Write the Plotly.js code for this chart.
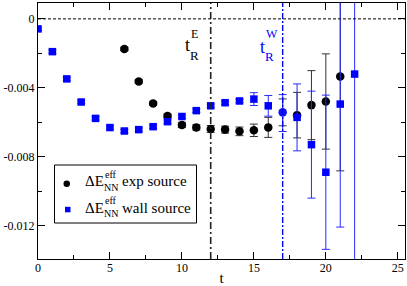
<!DOCTYPE html>
<html>
<head>
<meta charset="utf-8">
<script src="https://cdn.plot.ly/plotly-3.0.1.min.js"></script>
<style>html,body{margin:0;padding:0;background:#fff;} #chart{width:407px;height:286px;}</style>
</head>
<body>
<div id="chart"></div>
<script>
// ---- data ----
var expT = [6,7,8,9,10,11,12,13,14,15,16,17,18,19,20,21];
var expY = [-0.00174,-0.00363,-0.00490,-0.00563,-0.00615,-0.00629,-0.00638,-0.00642,-0.00652,-0.00646,-0.00629,-0.00542,-0.00558,-0.00500,-0.00479,-0.00334];
var expErr = [0.0001,0.0001,0.0001,0.00012,0.00015,0.00015,0.0002,0.0002,0.00025,0.00036,0.00058,0.00078,0.00132,0.00200,0.00276,0.00547];

var wallT = [0,1,2,3,4,5,6,7,8,9,10,11,12,13,14,15,16,17,18,19,20,21,22];
var wallY = [-0.00058,-0.00190,-0.00348,-0.00482,-0.00577,-0.00630,-0.00650,-0.00642,-0.00625,-0.00596,-0.00566,-0.00532,-0.00504,-0.00486,-0.00476,-0.00465,-0.00504,-0.00546,-0.00571,-0.00729,-0.00889,-0.00494,-0.00320];
var wallErr = [0.0001,0.0001,0.0001,0.0001,0.0001,0.0001,0.0001,0.0001,0.0001,0.0001,0.0001,0.0001,0.0001,0.0001,0.0001,0.00037,0.00060,0.00107,0.00194,0.00310,0.00447,0.00713,0.01200];

var xTickVals = [0,5,10,15,20,25];
var xTickText = ['0','5','10','15','20','25'];
var yTickVals = [0,-0.004,-0.008,-0.012];
var yTickText = ['0','-0.004','-0.008','-0.012'];

var tRE = 12, tRW = 17;

var serif = "'Liberation Serif', 'Times New Roman', 'DejaVu Serif', serif";
var BLUE = '#0000ff';

// plot geometry (pixels) for annotation placement
var L = 38, R = 405, T = 3, B = 259;
function px(x){ return (x - L) / (R - L); }
function py(y){ return (B - y) / (B - T); }

var expColors = expT.map(function(t){ return t === tRW ? '#1010ee' : '#000000'; });
var wallOpac = wallT.map(function(t){ return t === tRW ? 0 : 1; });

var traces = [
  {
    x: expT, y: expY, type: 'scatter', mode: 'markers', name: 'exp source',
    marker: {symbol: 'circle', size: 8.5, color: expColors},
    error_y: {type: 'data', array: expErr, visible: true, color: '#333333', thickness: 1, width: 4},
    showlegend: false
  },
  {
    x: wallT, y: wallY, type: 'scatter', mode: 'markers', name: 'wall source',
    marker: {symbol: 'square', size: 7.5, color: BLUE, opacity: wallOpac},
    error_y: {type: 'data', array: wallErr, visible: true, color: '#2a2aff', thickness: 1, width: 4},
    showlegend: false
  }
];

function ann(text, xl, base, fs, color){
  return {xref:'paper', yref:'paper', x: px(xl), y: py(base - 0.34*fs), xanchor:'left', yanchor:'middle',
          text: text, showarrow:false, font:{family: serif, size: fs, color: color}, borderpad:0};
}

var annotations = [
  ann('t', 183.5, 51, 18, '#000'),
  ann('R', 188.5, 59.5, 13, '#000'),
  ann('E', 190, 38, 12, '#000'),
  ann('t', 259, 53, 18, BLUE),
  ann('R', 264, 60.5, 13, BLUE),
  ann('W', 265, 38.3, 12, BLUE),
  // legend
  ann('ΔE', 84, 186.5, 15, '#000'),
  ann('NN', 102.5, 190.5, 10, '#000'),
  ann('eff', 104, 177.5, 10, '#000'),
  ann('exp source', 121, 186.5, 15, '#000'),
  ann('ΔE', 84, 213, 15, '#000'),
  ann('NN', 102.5, 217, 10, '#000'),
  ann('eff', 104, 204, 10, '#000'),
  ann('wall source', 121, 213, 15, '#000')
];

var shapes = [
  {type:'line', xref:'paper', yref:'y', x0:0, x1:1, y0:0, y1:0, line:{color:'#000', width:1, dash:'3px,2px'}},
  {type:'line', xref:'x', yref:'paper', x0:tRE, x1:tRE, y0:0, y1:1, line:{color:'#222', width:1.6, dash:'7px,3px,2px,3px'}},
  {type:'line', xref:'x', yref:'paper', x0:tRW, x1:tRW, y0:0, y1:1, line:{color:BLUE, width:1.4, dash:'6px,2px,2px,2px'}},
  // legend box and symbols
  {type:'rect', xref:'paper', yref:'paper', x0:px(54.5), x1:px(196.5), y0:py(165), y1:py(223), line:{color:'#000', width:1}, fillcolor:'#fff', layer:'above'},
  {type:'circle', xref:'paper', yref:'paper', x0:px(63.5), x1:px(70), y0:py(180.5), y1:py(187), line:{width:0}, fillcolor:'#000', layer:'above'},
  {type:'rect', xref:'paper', yref:'paper', x0:px(65), x1:px(70.5), y0:py(206.8), y1:py(212.3), line:{width:0}, fillcolor:BLUE, layer:'above'}
];

var axisCommon = {
  showgrid:false, zeroline:false, showline:true, linecolor:'#000', linewidth:1, mirror:'ticks',
  ticks:'inside', ticklen:7, tickwidth:1, tickcolor:'#000',
  tickfont:{family: serif, size:12, color:'#000'}
};

var layout = {
  width:407, height:286,
  margin:{l:L, r:407-R, t:T, b:286-B, pad:0},
  paper_bgcolor:'#fff', plot_bgcolor:'#fff',
  showlegend:false,
  font:{family: serif},
  xaxis: Object.assign({}, axisCommon, {
    range:[0,25.5], tickvals:xTickVals, ticktext:xTickText, ticklabelstandoff:-2,
    minor:{dtick:2.5, tick0:0, ticks:'inside', ticklen:4, tickcolor:'#000', tickwidth:1, showgrid:false},
    title:{text:'t', font:{family: serif, size:15, color:'#000'}, standoff:3}
  }),
  yaxis: Object.assign({}, axisCommon, {
    range:[-0.01392,0.00092], tickvals:yTickVals, ticktext:yTickText,
    minor:{dtick:0.002, tick0:0, ticks:'inside', ticklen:4, tickcolor:'#000', tickwidth:1, showgrid:false}
  }),
  shapes: shapes,
  annotations: annotations
};

Plotly.newPlot('chart', traces, layout, {staticPlot:true, displayModeBar:false});
</script>
</body>
</html>
